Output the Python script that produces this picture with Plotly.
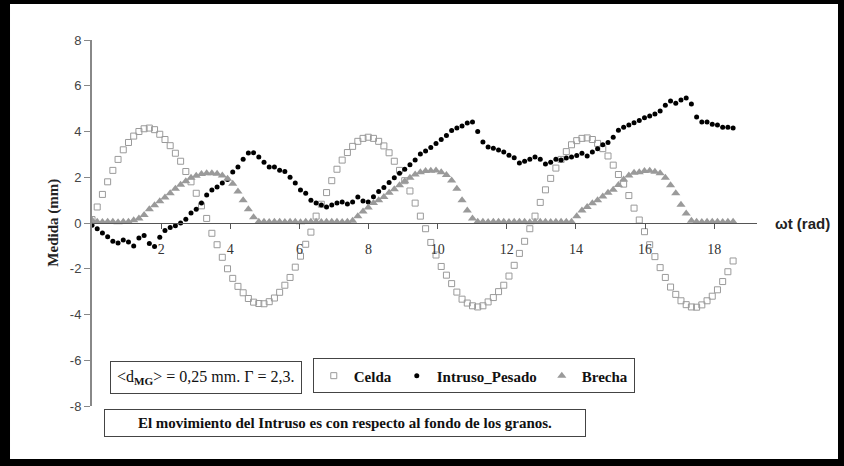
import plotly.graph_objects as go

# sampling step of the time axis (rad) and measured series
omega_step = 0.1508

celda = [
    0.15, 0.7, 1.25, 1.8, 2.3, 2.78, 3.2, 3.52, 3.8, 4.0,
    4.12, 4.15, 4.08, 3.88, 3.65, 3.38, 3.05, 2.7, 2.25, 1.8,
    1.3, 0.75, 0.2, -0.45, -0.95, -1.5, -2.0, -2.42, -2.77, -3.05,
    -3.3, -3.46, -3.52, -3.53, -3.44, -3.28, -3.03, -2.72, -2.38, -1.93,
    -1.45, -0.93, -0.4, 0.3, 0.82, 1.33, 1.85, 2.35, 2.75, 3.08,
    3.35, 3.57, 3.7, 3.75, 3.7, 3.57, 3.37, 3.07, 2.7, 2.3,
    1.85, 1.4, 0.87, 0.3, -0.25, -0.85, -1.4, -1.9, -2.28, -2.65,
    -3.02, -3.33, -3.5, -3.62, -3.67, -3.62, -3.45, -3.26, -3.0, -2.72,
    -2.32, -1.85, -1.33, -0.8, -0.25, 0.3, 0.9, 1.45, 1.95, 2.4,
    2.78, 3.12, 3.42, 3.6, 3.7, 3.72, 3.65, 3.48, 3.25, 2.93,
    2.53, 2.12, 1.7, 1.2, 0.65, 0.13, -0.38, -0.95, -1.47, -1.95,
    -2.38, -2.8, -3.12, -3.4, -3.57, -3.67, -3.68, -3.58, -3.4, -3.2,
    -2.92, -2.56, -2.13, -1.66,
]

intruso_pesado = [
    -0.1, -0.25, -0.44, -0.6, -0.8, -0.87, -0.74, -0.83, -1.0, -0.66,
    -0.55, -0.9, -1.03, -0.62, -0.33, -0.2, -0.12, 0.0, 0.16, 0.44,
    0.6, 0.87, 1.22, 1.44, 1.57, 1.75, 1.9, 2.23, 2.45, 2.79,
    3.06, 3.07, 2.88, 2.66, 2.45, 2.45, 2.31, 2.25, 2.0, 1.75,
    1.44, 1.3, 1.0, 0.87, 0.79, 0.7, 0.79, 0.87, 0.92, 0.83,
    0.92, 1.14, 0.96, 0.92, 1.15, 1.38, 1.55, 1.77, 1.98, 2.18,
    2.35, 2.55, 2.75, 3.02, 3.15, 3.3, 3.48, 3.65, 3.82, 4.04,
    4.15, 4.24, 4.37, 4.41, 4.0, 3.54, 3.32, 3.27, 3.19, 3.1,
    2.96, 2.85, 2.62, 2.7, 2.79, 2.88, 2.79, 2.58, 2.66, 2.79,
    2.75, 2.84, 2.88, 2.95, 3.05, 2.93, 3.1, 3.25, 3.42, 3.52,
    3.75, 4.06, 4.19, 4.28, 4.38, 4.48, 4.6, 4.68, 4.77, 4.9,
    5.15, 5.33, 5.24, 5.38, 5.46, 5.2, 4.63, 4.41, 4.42, 4.32,
    4.28, 4.19, 4.19, 4.15,
]

brecha = [
    0.12, 0.05, 0.04, 0.06, 0.05, 0.03, 0.05, 0.06, 0.12, 0.2,
    0.35, 0.6, 0.78, 0.95, 1.12, 1.3, 1.5, 1.67, 1.83, 1.98,
    2.07, 2.14, 2.18, 2.18, 2.15, 2.08, 1.93, 1.72, 1.38, 1.0,
    0.6, 0.25, 0.06, 0.05, 0.04, 0.05, 0.06, 0.04, 0.05, 0.05,
    0.03, 0.05, 0.06, 0.05, 0.04, 0.05, 0.06, 0.05, 0.04, 0.05,
    0.1, 0.3, 0.5, 0.68, 0.87, 1.0, 1.14, 1.32, 1.48, 1.65,
    1.82, 1.98, 2.12, 2.22, 2.27, 2.28, 2.3, 2.22, 2.1, 1.86,
    1.5, 1.0, 0.55, 0.2, 0.06, 0.05, 0.04, 0.05, 0.06, 0.05,
    0.04, 0.05, 0.06, 0.05, 0.03, 0.05, 0.06, 0.05, 0.04, 0.05,
    0.06, 0.05, 0.05, 0.3, 0.55, 0.7, 0.86, 1.0, 1.16, 1.32,
    1.45, 1.66, 1.9, 2.08, 2.2, 2.22, 2.27, 2.28, 2.24, 2.18,
    1.98, 1.65, 1.3, 0.8, 0.42, 0.1, 0.05, 0.04, 0.06, 0.05,
    0.05, 0.04, 0.06, 0.05,
]

omega_t = [round(i * omega_step, 4) for i in range(len(celda))]

series_names = ["Celda", "Intruso_Pesado", "Brecha"]
x_tickvals = [2, 4, 6, 8, 10, 12, 14, 16, 18]
y_tickvals = [-8, -6, -4, -2, 0, 2, 4, 6, 8]
y_ticktext = ["-8", "-6", "-4", "-2", "0", "2", "4", "6", "8"]

SERIF = "Liberation Serif"
SANS = "Liberation Sans"

fig = go.Figure()
fig.add_trace(go.Scatter(
    x=omega_t, y=celda, mode="markers", name="<b>%s</b>" % series_names[0],
    marker=dict(symbol="square-open", size=6, color="#9a9a9a", line=dict(width=1, color="#9a9a9a")),
))
fig.add_trace(go.Scatter(
    x=omega_t, y=intruso_pesado, mode="markers", name="<b>%s</b>" % series_names[1],
    marker=dict(symbol="circle", size=5, color="#000000"),
))
fig.add_trace(go.Scatter(
    x=omega_t, y=brecha, mode="markers", name="<b>%s</b>" % series_names[2],
    marker=dict(symbol="triangle-up", size=8, color="#9a9a9a"),
))

fig.update_layout(
    width=844, height=466,
    margin=dict(l=92, r=87, t=40, b=60),
    paper_bgcolor="black",
    plot_bgcolor="white",
    showlegend=True,
    legend=dict(
        orientation="h", x=0.332, y=0.13, xanchor="left", yanchor="top",
        bgcolor="white", bordercolor="#444", borderwidth=1,
        font=dict(family=SERIF, size=15, color="#111"),
        itemwidth=30, itemsizing="trace", tracegroupgap=0,
    ),
    shapes=[dict(
        type="rect", xref="paper", yref="paper",
        x0=-0.1233, x1=1.1218, y0=-0.1448, y1=1.0984,
        fillcolor="white", line=dict(width=0), layer="below",
    )],
    xaxis=dict(
        range=[0, 19.24], anchor="free", position=0.5,
        showline=True, linecolor="#555", linewidth=1,
        ticks="outside", ticklen=5, tickcolor="#555",
        tickvals=x_tickvals, ticklabelstandoff=8,
        tickfont=dict(family=SERIF, size=14, color="#333"),
        showgrid=False, zeroline=False,
    ),
    yaxis=dict(
        range=[-8, 8], tickvals=y_tickvals, ticktext=y_ticktext,
        showline=True, linecolor="#888", linewidth=2,
        ticks="outside", ticklen=6, tickcolor="#888",
        tickfont=dict(family=SANS, size=13, color="#444"),
        showgrid=False, zeroline=False,
    ),
    annotations=[
        dict(text="<b>Medida (mm)</b>", xref="paper", yref="paper", x=-0.075, y=0.5,
             textangle=-90, showarrow=False, font=dict(family=SERIF, size=15, color="#222")),
        dict(text="<b>ωt (rad)</b>", xref="paper", yref="paper", x=1.024, y=0.5,
             xanchor="left", yanchor="middle", showarrow=False,
             font=dict(family=SANS, size=15, color="#222")),
        dict(text="&lt;d<sub><b>MG</b></sub>&gt; = 0,25 mm. Γ = 2,3.", xref="paper", yref="paper",
             x=0.171, y=0.079, xanchor="center", yanchor="middle", showarrow=False,
             bgcolor="white", bordercolor="#444", borderwidth=1, borderpad=6,
             font=dict(family=SERIF, size=16, color="#111")),
        dict(text="<b>El movimiento del Intruso es con respecto al fondo de los granos.</b>",
             xref="paper", yref="paper", x=0.381, y=-0.046, xanchor="center", yanchor="middle",
             showarrow=False, bgcolor="white", bordercolor="#444", borderwidth=1,
             width=470, borderpad=5,
             font=dict(family=SERIF, size=15, color="#111")),
    ],
)

fig.write_html("out.html", config={"displayModeBar": False},
               post_script="document.body.style.margin='0';")
